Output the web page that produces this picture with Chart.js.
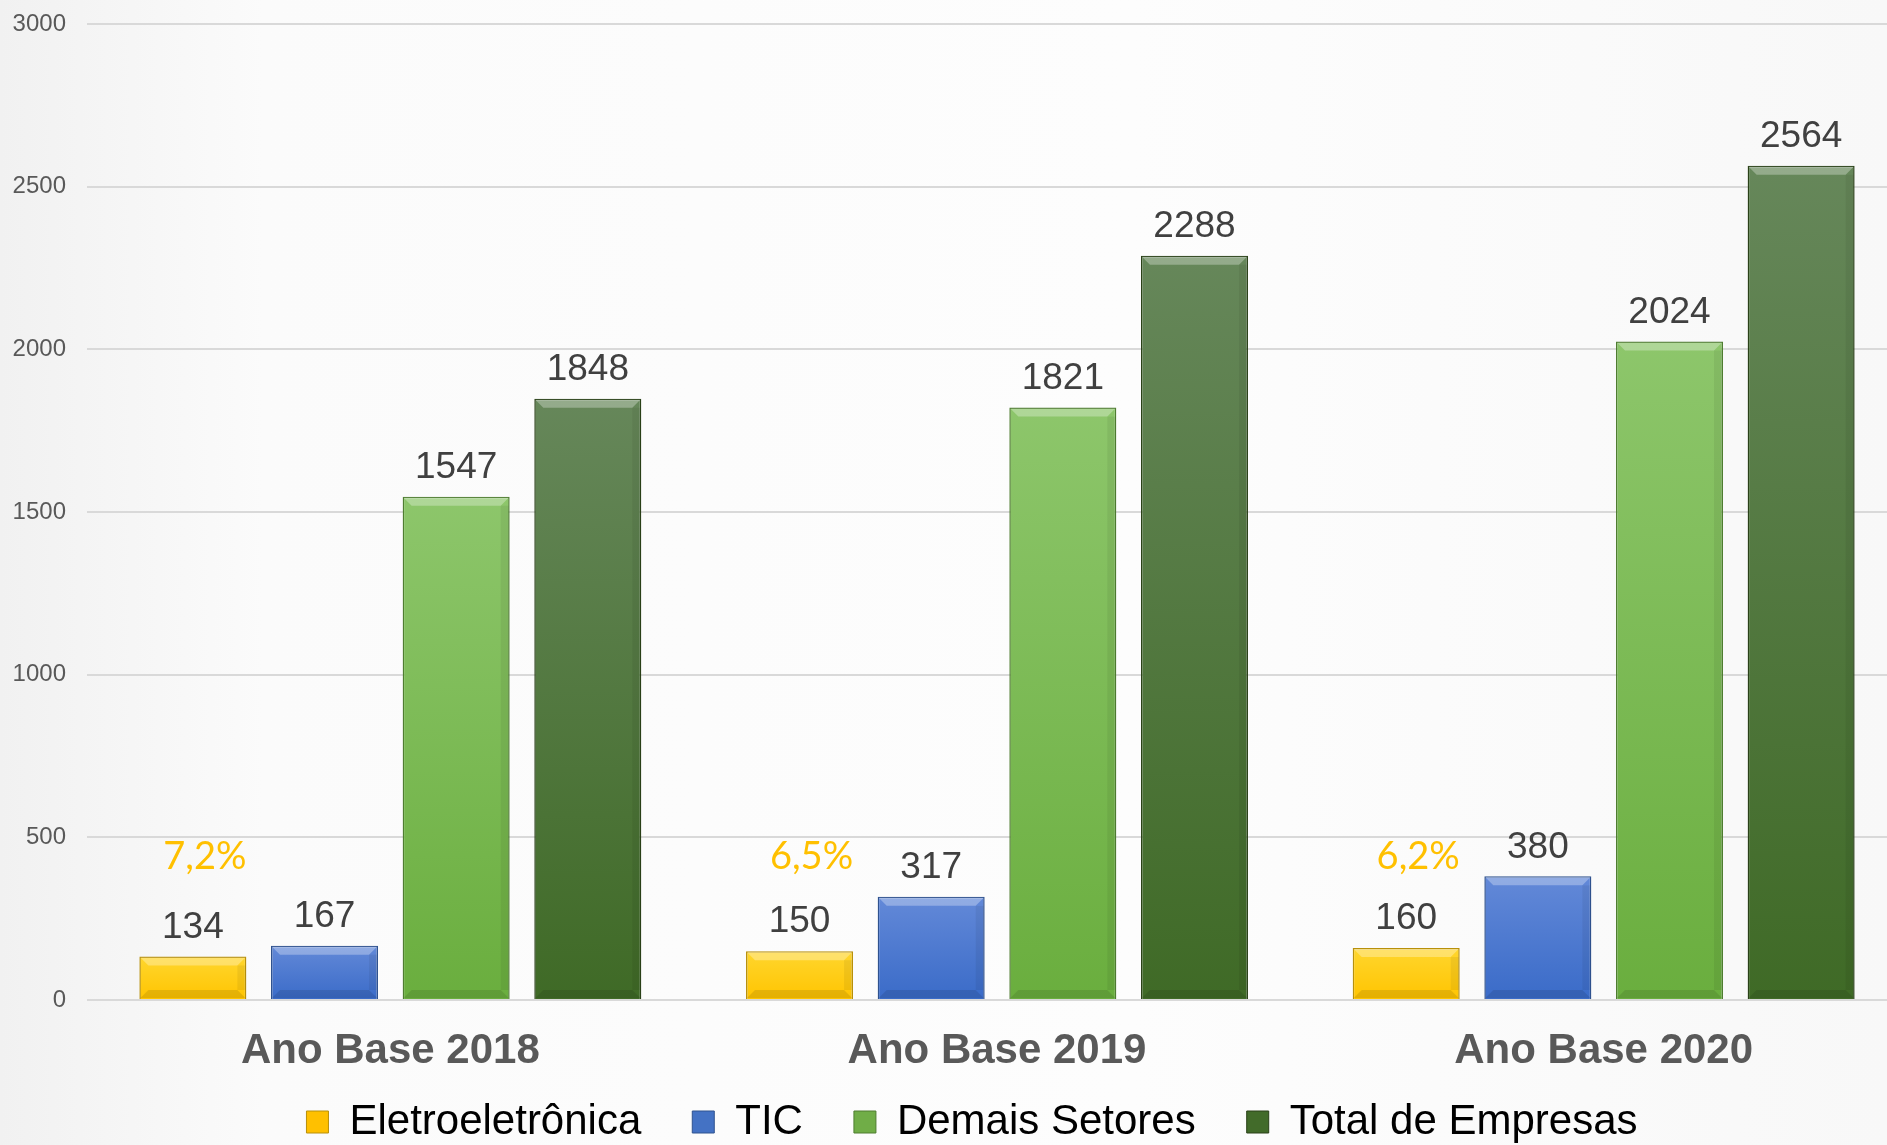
<!DOCTYPE html>
<html>
<head>
<meta charset="utf-8">
<script src="https://cdn.jsdelivr.net/npm/chart.js@4/dist/chart.umd.min.js"></script>
<style>
  html, body { margin: 0; padding: 0; overflow: hidden; }
  body {
    width: 1887px; height: 1145px;
    background: linear-gradient(90deg, #f1f1f1 0%, #fbfbfb 14%, #fdfdfd 60%, #f8f8f8 100%);
  }
  #wrap { position: absolute; left: 0; top: 0; width: 1944px; height: 1153px; }
</style>
</head>
<body>
<div id="wrap"><canvas id="chart"></canvas></div>
<script>
// values
const categories = ['Ano Base 2018', 'Ano Base 2019', 'Ano Base 2020'];
const eletroeletronica = [134, 150, 160];
const tic = [167, 317, 380];
const demaisSetores = [1547, 1821, 2024];
const totalEmpresas = [1848, 2288, 2564];
const shareLabels = ['7,2%', '6,5%', '6,2%'];
const shareLevel = 440; // height (in axis units) where the % labels sit
const yTicks = { min: 0, max: 3000, step: 500 };

const palette = [
  { top: '#FFD62E', bottom: '#FFC400', solid: '#FFC000', edge: '#B8900A' },
  { top: '#6389D8', bottom: '#3A6BC8', solid: '#4472C4', edge: '#2F528F' },
  { top: '#8DC66B', bottom: '#6AAE3E', solid: '#70AD47', edge: '#4E7D30' },
  { top: '#66875A', bottom: '#3F6A26', solid: '#426B2A', edge: '#2A4118' }
];

function barFill(p) {
  return function(ctx) {
    const chart = ctx.chart;
    if (ctx.type !== 'data' || !chart.chartArea) return p.solid;
    const y = chart.scales.y;
    const g = chart.ctx.createLinearGradient(0, y.getPixelForValue(ctx.raw), 0, y.getPixelForValue(0));
    g.addColorStop(0, p.top);
    g.addColorStop(1, p.bottom);
    return g;
  };
}

function makeSet(label, data, p) {
  return {
    label: label,
    data: data,
    backgroundColor: barFill(p),
    borderColor: p.edge,
    borderWidth: 1.5,
    categoryPercentage: 0.868,
    barPercentage: 0.813
  };
}

// bevel look + value labels + share labels + category names
const barDecor = {
  id: 'barDecor',
  afterLayout(chart) {
    // the legend in the picture is centred a bit right of the canvas middle
    chart.legend.left += 18.5;
    chart.legend.right += 18.5;
  },
  afterDatasetsDraw(chart) {
    const c = chart.ctx;
    chart.data.datasets.forEach((ds, di) => {
      const meta = chart.getDatasetMeta(di);
      meta.data.forEach((bar, i) => {
        const left = bar.x - bar.width / 2, right = bar.x + bar.width / 2;
        const top = bar.y, base = bar.base, b = 9;
        c.save();
        c.fillStyle = 'rgba(255,255,255,0.30)';
        c.beginPath();
        c.moveTo(left + 1, top + 1); c.lineTo(right - 1, top + 1);
        c.lineTo(right - b, top + b); c.lineTo(left + b, top + b);
        c.closePath(); c.fill();
        c.fillStyle = 'rgba(0,0,0,0.10)';
        c.beginPath();
        c.moveTo(left + 1, base - 1); c.lineTo(right - 1, base - 1);
        c.lineTo(right - b, base - b); c.lineTo(left + b, base - b);
        c.closePath(); c.fill();
        c.fillStyle = 'rgba(0,0,0,0.06)';
        c.fillRect(right - b, top + b, b - 1, base - top - 2 * b);
        c.restore();

        c.save();
        c.font = '37px "Liberation Sans", Arial, sans-serif';
        c.fillStyle = '#404040';
        c.textAlign = 'center';
        c.textBaseline = 'middle';
        c.fillText(String(ds.data[i]), bar.x, bar.y - 29);
        c.restore();
      });
    });

    const first = chart.getDatasetMeta(0);
    const y = chart.scales.y.getPixelForValue(shareLevel);
    c.save();
    c.font = '38px Lato, "Open Sans", sans-serif';
    c.fillStyle = '#FFC000';
    c.textAlign = 'center';
    c.textBaseline = 'middle';
    first.data.forEach((bar, i) => {
      c.fillText(shareLabels[i], bar.x + 12, y);
    });
    c.restore();

    // category names under the axis (drawn here so they are not clipped by the short axis box)
    const xs = chart.scales.x;
    c.save();
    c.font = 'bold 42px "Liberation Sans", Arial, sans-serif';
    c.fillStyle = '#595959';
    c.textAlign = 'center';
    c.textBaseline = 'middle';
    categories.forEach((name, i) => {
      c.fillText(name, xs.getPixelForValue(i), xs.top + 51);
    });
    c.restore();
  }
};

new Chart(document.getElementById('chart'), {
  type: 'bar',
  data: {
    labels: categories,
    datasets: [
      makeSet('Eletroeletrônica', eletroeletronica, palette[0]),
      makeSet('TIC', tic, palette[1]),
      makeSet('Demais Setores', demaisSetores, palette[2]),
      makeSet('Total de Empresas', totalEmpresas, palette[3])
    ]
  },
  options: {
    responsive: true,
    maintainAspectRatio: false,
    animation: false,
    layout: { padding: { top: 24, left: 0, right: 37, bottom: 0 } },
    plugins: {
      tooltip: { enabled: false },
      legend: {
        position: 'bottom',
        labels: {
          font: { family: '"Liberation Sans", Arial, sans-serif', size: 42 },
          color: '#4a4a4a',
          boxWidth: 22,
          boxHeight: 22,
          padding: 51,
          generateLabels(chart) {
            return chart.data.datasets.map((ds, i) => ({
              text: ds.label,
              fillStyle: palette[i].solid,
              strokeStyle: palette[i].edge,
              lineWidth: 1,
              hidden: false,
              datasetIndex: i
            }));
          }
        }
      }
    },
    scales: {
      x: {
        grid: { display: false, drawTicks: false },
        border: { display: false },
        ticks: { display: false },
        afterFit(axis) { axis.height = 50; }
      },
      y: {
        min: yTicks.min,
        max: yTicks.max,
        grid: { color: '#D9D9D9', lineWidth: 2, drawTicks: true, tickLength: 21, tickColor: 'rgba(0,0,0,0)' },
        border: { display: false },
        ticks: {
          stepSize: yTicks.step,
          padding: 0,
          color: '#595959',
          font: { family: '"Liberation Sans", Arial, sans-serif', size: 24 },
          callback: v => String(v)
        },
        afterFit(axis) { axis.width = 87; }
      }
    }
  },
  plugins: [barDecor]
});
</script>
</body>
</html>
